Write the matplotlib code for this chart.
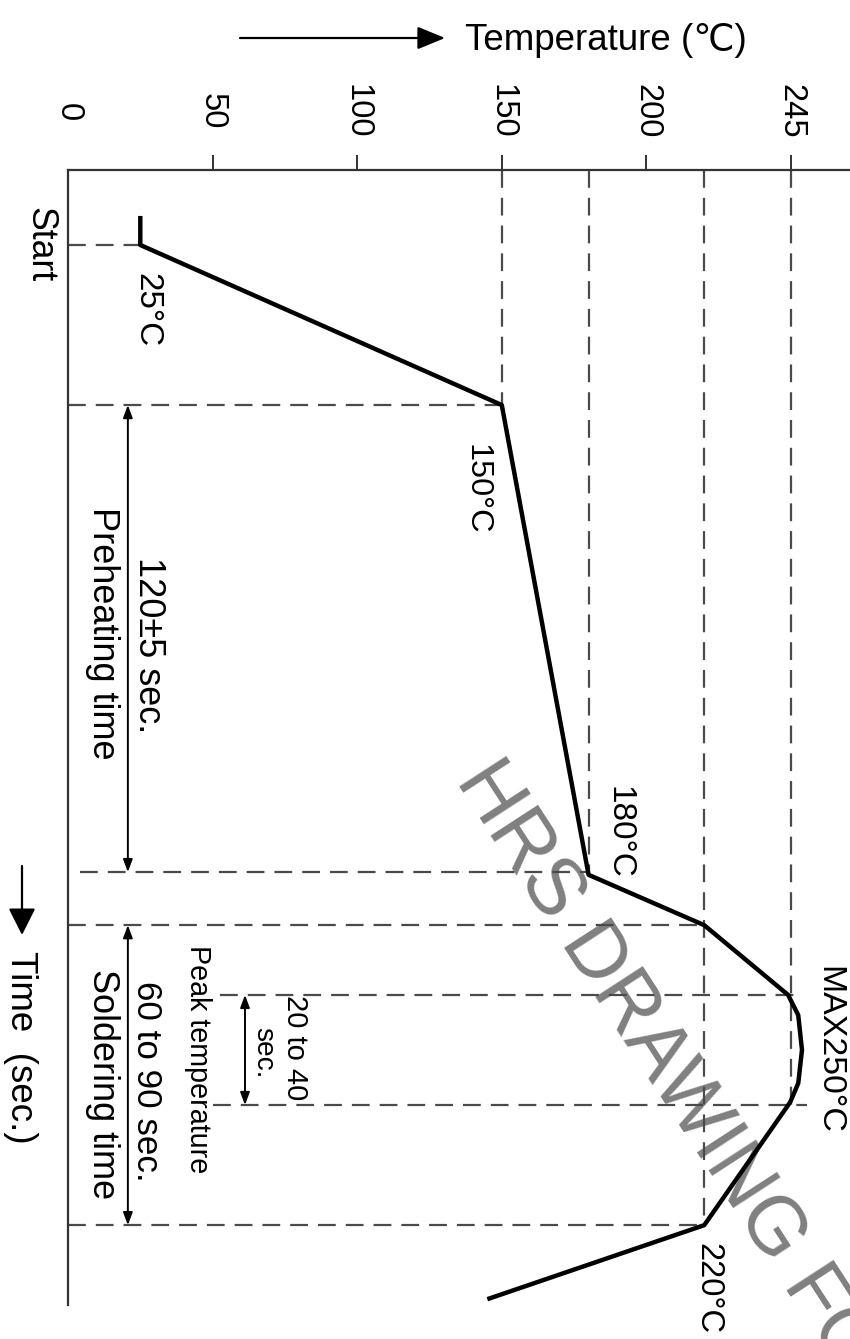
import matplotlib
matplotlib.use("Agg")
import matplotlib.pyplot as plt
from matplotlib import font_manager

# ---------------- data ----------------
profile_temp = [25, 25, 150, 180, 220, 249, 252.5, 253.8, 252.5, 249.7, 220, 145]
profile_time = [-7.5, 0, 41.3, 162.5, 175.5, 193.5, 198.7, 207.7, 216.3, 221.2, 252.9, 272]

temp_ticks = [0, 50, 100, 150, 200, 250]
temp_tick_labels = ["0", "50", "100", "150", "200", "245"]

# vertical guide lines (temperature level, time where the guide stops)
guide_temps = [150, 180, 220, 250]
guide_temp_end = [41.3, 161.8, 252.9, 221.9]

# horizontal guide lines (time, from temp, to temp)
guide_times = [0, 41.3, 161.8, 175.5, 193.5, 221.9, 252.9]
guide_from = [0, 0, 4, 0, 52.6, 50, 0]
guide_to = [25, 150, 179, 220, 253.8, 255.5, 220]

# dimension arrows (temperature position, time start, time end)
dim_temp = [20.7, 20.7, 61.2]
dim_start = [41.3, 175.5, 193.5]
dim_end = [161.8, 252.9, 221.9]

# ---------------- fonts ----------------
names = {f.name for f in font_manager.fontManager.ttflist}
main_font = "Liberation Sans Narrow" if "Liberation Sans Narrow" in names else "Liberation Sans"
narrow = main_font == "Liberation Sans Narrow"
k = 1.0 if narrow else 0.84
plt.rcParams["font.family"] = [main_font, "DejaVu Sans"]

W, H = 850, 1339
fig = plt.figure(figsize=(W / 100, H / 100), dpi=100)
ax_left, ax_top, ax_bottom = 68, 170, 1305
ax = fig.add_axes([ax_left / W, 1 - ax_bottom / H, 1 - ax_left / W, (ax_bottom - ax_top) / H])

px_per_deg = 2.892
ax.set_xlim(0, (W - ax_left) / px_per_deg)
ax.set_ylim(273.5, -19.35)

for s in ["right", "bottom"]:
    ax.spines[s].set_visible(False)
for s in ["top", "left"]:
    ax.spines[s].set_linewidth(1.6)
    ax.spines[s].set_color("#333333")

ax.set_yticks([])
ax.xaxis.tick_top()
ax.set_xticks(temp_ticks)
ax.set_xticklabels(temp_tick_labels, rotation=-90, fontsize=28 * k)
for lbl in ax.get_xticklabels():
    lbl.set_va("center")
ax.tick_params(axis="x", direction="out", length=11, width=1.4, pad=31, color="#333333")
t0 = ax.xaxis.get_major_ticks()[0]
t0.tick1line.set_visible(False)
t0.tick2line.set_visible(False)

dash = dict(color="#4a4a4a", lw=1.6, linestyle=(0, (8, 4.5)), zorder=1.5)
for tx, te in zip(guide_temps, guide_temp_end):
    ax.plot([tx, tx], [-19.35, te], **dash)
for ty, a, b in zip(guide_times, guide_from, guide_to):
    ax.plot([a, b], [ty, ty], **dash)

# watermark
ax.text(455 / W, 1 - 780 / H, "HRS DRAWING FOR REFERENCE", transform=fig.transFigure,
        rotation=-57, rotation_mode="anchor", ha="left", va="baseline",
        fontsize=58, color="#808080", family=["Liberation Sans", "DejaVu Sans"],
        zorder=1, clip_on=False)

# profile curve
ax.plot(profile_temp, profile_time, color="black", lw=3.2, solid_joinstyle="round",
        solid_capstyle="butt", zorder=3)

# dimension arrows
for x, a, b in zip(dim_temp, dim_start, dim_end):
    ax.annotate("", xy=(x, b), xytext=(x, a),
                arrowprops=dict(arrowstyle="<|-|>,head_length=0.75,head_width=0.28",
                                lw=1.4, color="black", shrinkA=0, shrinkB=0))

# axis direction arrows
ax.annotate("", xy=(445, H - 38), xytext=(240, H - 38), xycoords="figure pixels",
            textcoords="figure pixels",
            arrowprops=dict(arrowstyle="-|>,head_length=1.7,head_width=0.7",
                            lw=1.6, color="black", shrinkA=0, shrinkB=0))
ax.annotate("", xy=(22, H - 935), xytext=(22, H - 866), xycoords="figure pixels",
            textcoords="figure pixels",
            arrowprops=dict(arrowstyle="-|>,head_length=1.65,head_width=0.83",
                            lw=1.6, color="black", shrinkA=0, shrinkB=0))

fig.text(465 / W, 1 - 50 / H, "Temperature (\u2103)", ha="left", va="baseline", fontsize=31.5 * k)


def vtext(x, y, s, size):
    ax.text(x, y, s, rotation=-90, ha="center", va="center", fontsize=size * k, zorder=4)


vtext(-9.7, 0, "Start", 30.5)
vtext(27.3, 16.8, "25°C", 28.5)
vtext(141.4, 63, "150°C", 27.7)
vtext(190.5, 151.5, "180°C", 28.5)
vtext(263, 207.7, "MAX250°C", 29)
vtext(221.3, 269.3, "220°C", 28)
vtext(27.7, 103.2, "120±5 sec.", 31)
vtext(12.1, 100.1, "Preheating time", 31)
vtext(27.3, 215.7, "60 to 90 sec.", 30)
vtext(12.1, 216.5, "Soldering time", 31)
vtext(45, 210, "Peak temperature", 24.6)
vtext(78.5, 207.2, "20 to 40", 25)
vtext(67.4, 208.3, "sec.", 24)
vtext(-16.5, 207, "Time  (sec.)", 31.5)

fig.savefig("out.png", dpi=100)
